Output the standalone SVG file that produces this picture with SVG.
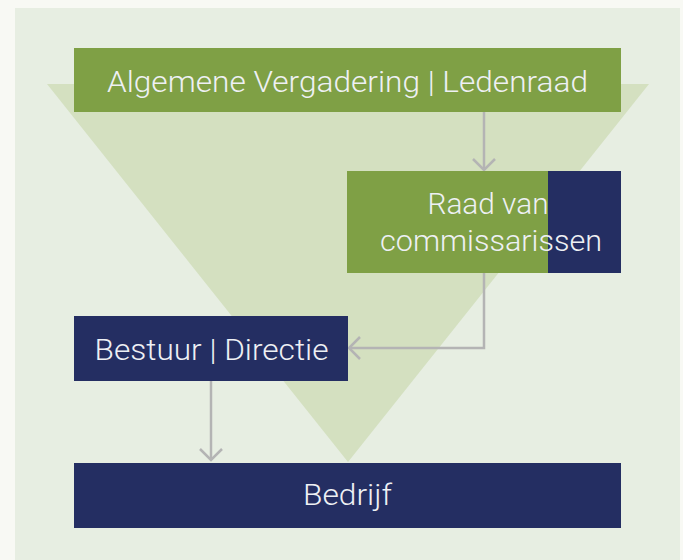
<svg xmlns="http://www.w3.org/2000/svg" width="683" height="560" viewBox="0 0 683 560">
<style>
.lbl{font-family:Roboto,"Liberation Sans",sans-serif;font-weight:300;font-size:30px;fill:#eef0f4;text-anchor:middle}
.green{fill:#7fa045}
.navy{fill:#242e62}
.conn{fill:none;stroke:#b4b4b4;stroke-width:2.5}
</style>
<defs>
<marker id="chev" viewBox="-12 -12 14 24" markerWidth="14" markerHeight="24" refX="0" refY="0" orient="auto" markerUnits="userSpaceOnUse">
<path d="M-11,-11 L0,0 L-11,11" fill="none" stroke="#b4b4b4" stroke-width="2.5"/>
</marker>
</defs>
<rect x="0" y="0" width="683" height="560" fill="#f8f9f4"/>
<rect x="15" y="8" width="665" height="552" fill="#e7eee2"/>
<polygon points="47,84 649,84 348,462" fill="#d4e0c0"/>
<g id="connectors">
<path class="conn" d="M484,112 V170" marker-end="url(#chev)"/>
<path class="conn" d="M484,273 V348 H349" marker-end="url(#chev)"/>
<path class="conn" d="M211,381 V460" marker-end="url(#chev)"/>
</g>
<g id="algemene-vergadering">
<rect class="green" x="74" y="48" width="547" height="64"/>
<text class="lbl" x="347.5" y="92" textLength="481" lengthAdjust="spacingAndGlyphs">Algemene Vergadering | Ledenraad</text>
</g>
<g id="raad-van-commissarissen">
<rect class="green" x="347" y="171" width="201" height="102"/>
<rect class="navy" x="548" y="171" width="73" height="102"/>
<text class="lbl" x="488" y="214" textLength="121" lengthAdjust="spacingAndGlyphs">Raad van</text>
<text class="lbl" x="491" y="251" textLength="222" lengthAdjust="spacingAndGlyphs">commissarissen</text>
</g>
<g id="bestuur-directie">
<rect class="navy" x="74" y="316" width="274" height="65"/>
<text class="lbl" x="211.5" y="360" textLength="234" lengthAdjust="spacingAndGlyphs">Bestuur | Directie</text>
</g>
<g id="bedrijf">
<rect class="navy" x="74" y="463" width="547" height="65"/>
<text class="lbl" x="347.5" y="505" textLength="89" lengthAdjust="spacingAndGlyphs">Bedrijf</text>
</g>
</svg>
